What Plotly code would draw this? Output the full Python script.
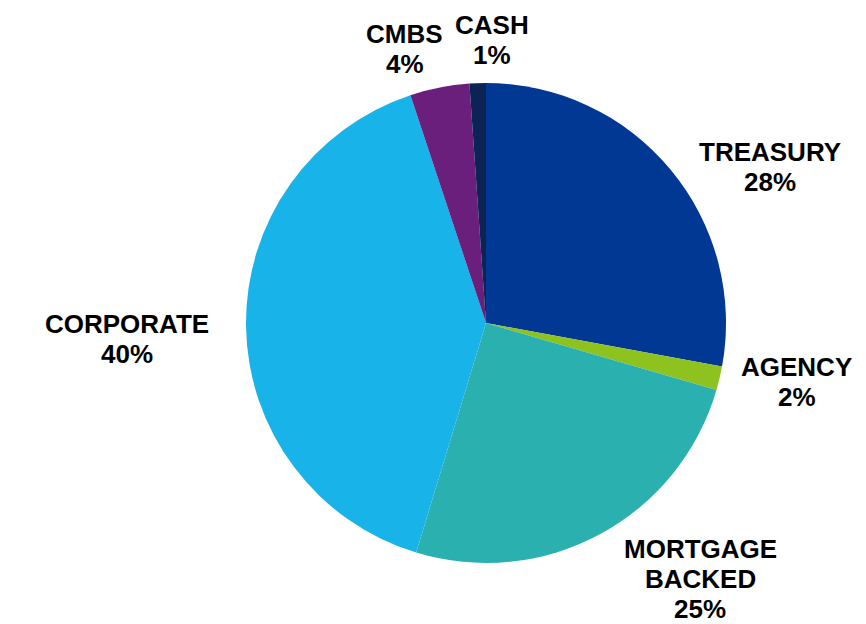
import math
import plotly.graph_objects as go

categories = ["TREASURY", "AGENCY", "MORTGAGE<br>BACKED", "CORPORATE", "CMBS", "CASH"]
values = [27.9, 1.6, 25.2, 40.2, 4.0, 1.1]
colors = ["#003893", "#8DC21F", "#2BB0B0", "#18B4E9", "#6B1F7C", "#0B2355"]

# label nudges (pixels, from slice edge midpoint) - style only
label_shift = [(100, 2), (77, -4), (100, -45), (-119, -13), (-35, 39), (14, 43)]

W, H = 866, 624
cx, cy, R = 486, 323, 240
LINE = 30
FONT = dict(family="Liberation Sans, Arial", size=26, color="#000000", weight="bold")

fig = go.Figure(go.Pie(
    labels=categories,
    values=values,
    sort=False,
    direction="clockwise",
    rotation=0,
    marker=dict(colors=colors, line=dict(width=0)),
    textinfo="none",
    hoverinfo="label+percent",
    showlegend=False,
    domain=dict(x=[(cx - R) / W, (cx + R) / W], y=[(H - cy - R) / H, (H - cy + R) / H]),
))

total = sum(values)
cum = 0.0
annotations = []
for cat, v, (sx, sy) in zip(categories, values, label_shift):
    mid = (cum + v / 2) / total * 2 * math.pi
    cum += v
    ex = cx + R * math.sin(mid)
    ey = cy - R * math.cos(mid)
    lines = cat.split("<br>") + [f"{round(v / total * 100)}%"]
    n = len(lines)
    for i, t in enumerate(lines):
        annotations.append(dict(
            x=ex / W, y=1 - ey / H, xref="paper", yref="paper",
            text=t, showarrow=False, font=FONT,
            xanchor="center", yanchor="middle",
            xshift=sx, yshift=sy + ((n - 1) / 2 - i) * LINE,
        ))

fig.update_layout(
    width=W, height=H,
    margin=dict(l=0, r=0, t=0, b=0),
    paper_bgcolor="white",
    plot_bgcolor="white",
    annotations=annotations,
)

fig.write_html("out.html")
